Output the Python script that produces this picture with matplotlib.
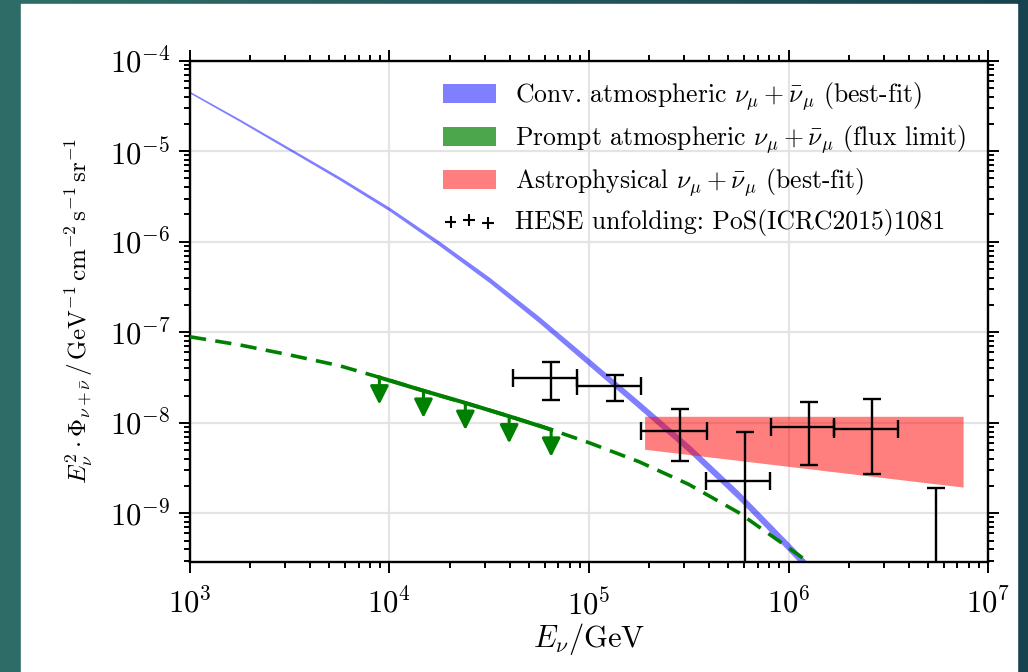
import numpy as np
import matplotlib
matplotlib.use("Agg")
import matplotlib.pyplot as plt
from matplotlib.patches import Patch, Rectangle
from matplotlib.colors import to_rgb
from matplotlib.ticker import LogLocator, NullFormatter

plt.rcParams["mathtext.fontset"] = "cm"
plt.rcParams["font.family"] = "serif"
plt.rcParams["font.serif"] = ["cmr10", "DejaVu Serif"]
plt.rcParams["axes.formatter.use_mathtext"] = True

# conventional atmospheric numu flux (best fit), band width in decades
conv_E = [1e3, 1.78e3, 3.16e3, 5.62e3, 1e4, 1.78e4, 3.16e4, 5.62e4,
          1e5, 1.78e5, 3.16e5, 5.62e5, 1e6, 1.26e6]
conv_flux = [4.47e-5, 2.19e-5, 1.05e-5, 5.01e-6, 2.29e-6, 9.55e-7, 3.80e-7,
             1.38e-7, 4.68e-8, 1.58e-8, 5.25e-9, 1.58e-9, 4.27e-10, 2.51e-10]
conv_width = [0.02, 0.025, 0.03, 0.035, 0.04, 0.05, 0.06, 0.07,
              0.08, 0.085, 0.09, 0.095, 0.10, 0.10]

# prompt atmospheric model and the flux limit over the sensitive range
prompt_E = [1e3, 1.78e3, 3.16e3, 5.62e3, 1e4, 1.78e4, 3.16e4, 5.62e4,
            1e5, 1.78e5, 3.16e5, 5.62e5, 1e6, 1.26e6]
prompt_flux = [8.91e-8, 7.24e-8, 5.62e-8, 4.27e-8, 2.95e-8, 2.0e-8, 1.38e-8,
               9.33e-9, 6.03e-9, 3.72e-9, 2.09e-9, 1.02e-9, 4.17e-10, 2.88e-10]
limit_E = [8.9e3, 1.48e4, 2.4e4, 3.98e4, 6.46e4]
limit_flux = [3.17e-8, 2.26e-8, 1.66e-8, 1.18e-8, 8.4e-9]

# astrophysical best-fit band
astro_E = [1.9e5, 7.5e6]
astro_lo = [5.1e-9, 1.95e-9]
astro_hi = [1.18e-8, 1.18e-8]

# HESE unfolding points
hese_E = [6.46e4, 1.35e5, 2.85e5, 6.03e5, 1.26e6, 2.63e6, 5.50e6]
hese_E_lo = [4.17e4, 8.7e4, 1.82e5, 3.85e5, 8.13e5, 1.70e6, 5.50e6]
hese_E_hi = [8.7e4, 1.82e5, 3.89e5, 8.04e5, 1.70e6, 3.55e6, 5.50e6]
hese_flux = [3.09e-8, 2.52e-8, 8.18e-9, 2.30e-9, 9.02e-9, 8.49e-9, 0.0]
hese_flux_lo = [1.77e-8, 1.74e-8, 3.77e-9, 0.0, 3.39e-9, 2.75e-9, 0.0]
hese_flux_hi = [4.71e-8, 3.39e-8, 1.42e-8, 7.98e-9, 1.71e-8, 1.82e-8, 1.90e-9]

xticks = [1e3, 1e4, 1e5, 1e6, 1e7]
yticks = [1e-9, 1e-8, 1e-7, 1e-6, 1e-5, 1e-4]

W, H = 1028, 672
fig = plt.figure(figsize=(W / 100, H / 100), dpi=100)

# slide background: teal gradient with a white card on top
t = np.linspace(0, 1, W)[None, :, None]
c0, c1 = np.array(to_rgb("#2f6e68")), np.array(to_rgb("#17434f"))
grad = np.broadcast_to(c0 + (c1 - c0) * t, (H, W, 3))
fig.figimage(grad, 0, 0, zorder=-20)
fig.add_artist(Rectangle((21 / W, 0), (1017 - 21) / W, 1 - 4 / H,
                         transform=fig.transFigure, color="white",
                         zorder=-10))

ax = fig.add_axes([0.1848, 0.1637, 0.7763, 0.746])
ax.set_xscale("log")
ax.set_yscale("log", nonpositive="clip")
ax.set_xlim(1e3, 1e7)
ax.set_ylim(2.9e-10, 1e-4)
ax.set_xticks(xticks)
ax.set_yticks(yticks)
ax.yaxis.set_minor_locator(LogLocator(base=10, subs=np.arange(2, 10)))
ax.yaxis.set_minor_formatter(NullFormatter())
ax.xaxis.set_minor_locator(LogLocator(base=10, subs=np.arange(2, 10)))
ax.xaxis.set_minor_formatter(NullFormatter())

ax.grid(True, which="major", color="#e4e4e4", lw=1.6, zorder=0)

cE = np.array(conv_E)
cF = np.array(conv_flux)
cW = np.array(conv_width)
ax.fill_between(cE, cF / 10 ** (cW / 2), cF * 10 ** (cW / 2),
                color="blue", alpha=0.5, lw=0, zorder=2)

ax.fill_between(astro_E, astro_lo, astro_hi, color="red", alpha=0.5,
                lw=0, zorder=2)

ax.plot(prompt_E, prompt_flux, color="green", lw=2.6, ls=(0, (4.5, 2.6)),
        zorder=3)
ax.plot(limit_E, limit_flux, color="green", lw=2.9, zorder=3)
for e, f in zip(limit_E, limit_flux):
    ax.annotate("", xy=(e, f / 10 ** 0.3), xytext=(e, f),
                arrowprops=dict(arrowstyle="-|>", color="green", lw=2.2,
                                mutation_scale=28, shrinkA=0, shrinkB=0),
                zorder=3)

hE = np.array(hese_E)
hF = np.array(hese_flux)
xerr = [hE - np.array(hese_E_lo), np.array(hese_E_hi) - hE]
yerr = [hF - np.array(hese_flux_lo), np.array(hese_flux_hi) - hF]
ax.errorbar(hE, hF, xerr=xerr, yerr=yerr, fmt="none", ecolor="black",
            elinewidth=1.7, capsize=6.5, capthick=1.7, zorder=5)

for s in ax.spines.values():
    s.set_linewidth(1.7)
ax.tick_params(which="both", direction="out", top=True, right=True,
               labelsize=22, width=1.4)
ax.tick_params(which="major", length=8)
ax.tick_params(axis="x", which="major", pad=11)
ax.tick_params(axis="y", which="major", pad=6)
ax.tick_params(which="minor", length=4)

ax.set_xlabel(r"$E_\nu/\mathrm{GeV}$", fontsize=22, labelpad=0)
ax.set_ylabel(r"$E_\nu^2\cdot\Phi_{\nu+\bar{\nu}}\,/\,\mathrm{GeV}^{-1}\,"
              r"\mathrm{cm}^{-2}\,\mathrm{s}^{-1}\,\mathrm{sr}^{-1}$",
              fontsize=18, labelpad=10)

handles = [
    Patch(color="blue", alpha=0.5, lw=0),
    Patch(color="green", alpha=0.7, lw=0),
    Patch(color="red", alpha=0.5, lw=0),
    ax.scatter([], [], marker="+", color="black", s=70, lw=1.5),
]
labels = [
    r"Conv. atmospheric $\nu_\mu + \bar{\nu}_\mu$ (best-fit)",
    r"Prompt atmospheric $\nu_\mu + \bar{\nu}_\mu$ (flux limit)",
    r"Astrophysical $\nu_\mu + \bar{\nu}_\mu$ (best-fit)",
    "HESE unfolding: PoS(ICRC2015)1081",
]
ax.legend(handles, labels, loc="upper left", bbox_to_anchor=(0.317, 0.962),
          frameon=False, fontsize=18.5, handlelength=2.05, handleheight=0.75,
          labelspacing=0.4, handletextpad=0.75, scatterpoints=3,
          borderpad=0, borderaxespad=0)

fig.savefig("out.png", dpi=100)
